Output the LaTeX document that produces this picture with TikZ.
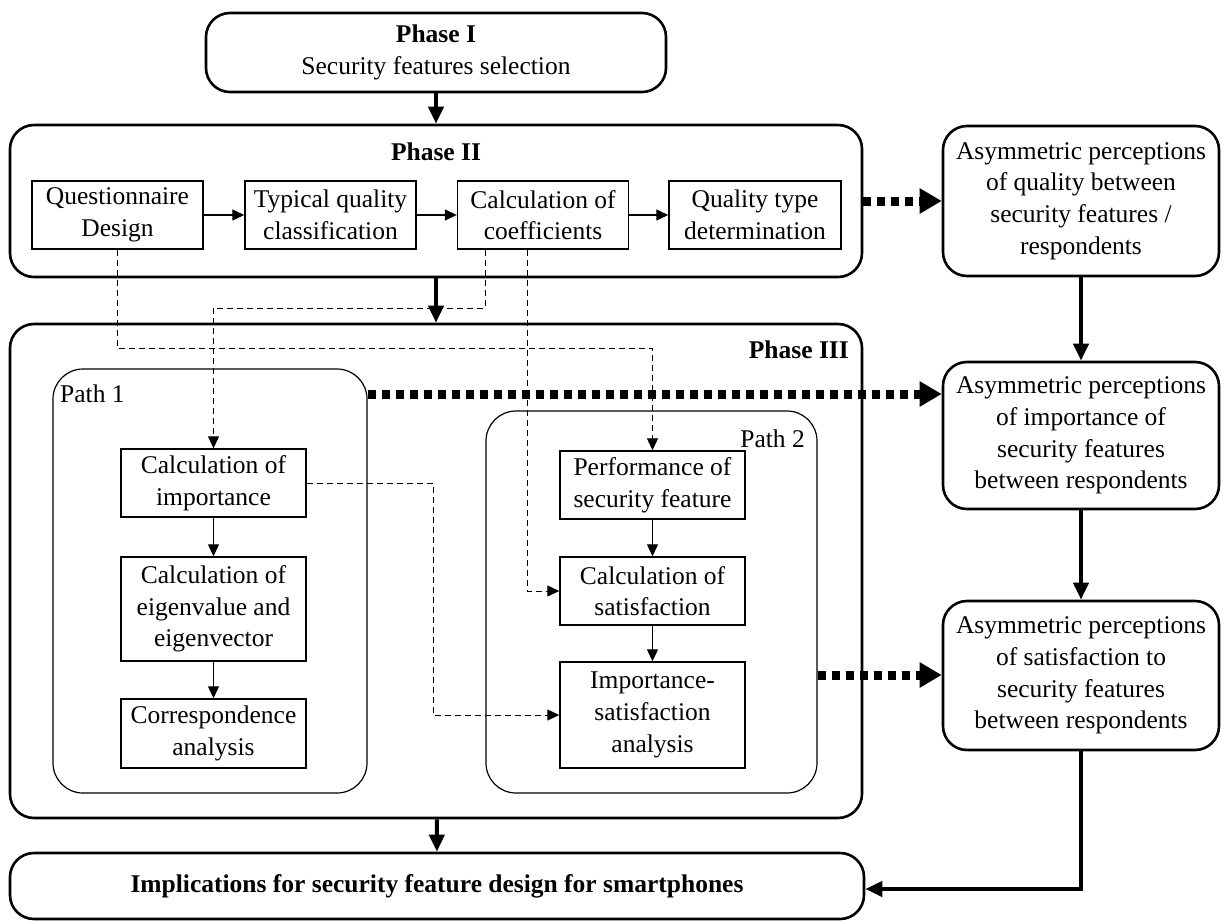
\documentclass[tikz,border=0pt]{standalone}
\usepackage{fontspec}
\setmainfont{Liberation Serif}
\usetikzlibrary{arrows.meta}
\begin{document}
\begin{tikzpicture}[x=1pt,y=-1pt,
  font=\fontsize{25.5}{31.7}\selectfont,
  phase/.style={draw, line width=2.6pt, rounded corners=24pt, align=center, inner sep=0pt},
  sidebox/.style={draw, line width=2.6pt, rounded corners=24pt, align=center, inner sep=0pt, minimum width=276pt},
  pathbox/.style={draw, line width=1.2pt, rounded corners=30pt},
  stepbox/.style={draw, line width=1.4pt, align=center, inner sep=0pt, minimum width=185pt},
  toprow/.style={stepbox, minimum width=171pt, minimum height=68pt},
  lbl/.style={inner sep=0pt},
  bold/.style={font={\fontsize{25.5}{31.7}\selectfont\bfseries}},
  thinarrow/.style={line width=1.2pt, -{Triangle[length=12pt,width=11pt]}},
  thickarrow/.style={line width=4pt, -{Triangle[length=17pt,width=15pt]}},
  dottedarrow/.style={line width=9pt, dash pattern=on 8pt off 6pt, -{Triangle[length=22pt,width=24pt]}},
  dashedarrow/.style={line width=1pt, dash pattern=on 6pt off 4pt, -{Triangle[length=12pt,width=11pt]}},
]
\useasboundingbox (0,0) rectangle (1224,921);

% Phase I
\node[phase, minimum width=460pt, minimum height=79pt] (P1) at (436,52.5)
  {\textbf{Phase I}\\Security features selection};

% Phase II
\node[phase, minimum width=852pt, minimum height=152pt] (P2) at (436,201) {};
\node[lbl, bold, anchor=base] (L2) at (436,160) {Phase II};
\node[toprow] (Q) at (117.5,215) {Questionnaire\\Design};
\node[toprow] (T) at (330.5,215) {Typical quality\\classification};
\node[toprow] (C) at (543,215) {Calculation of\\coefficients};
\node[toprow, minimum width=172pt] (QT) at (755,215) {Quality type\\determination};

% Phase III
\node[phase, minimum width=852pt, minimum height=494pt] (P3) at (436,571) {};
\node[lbl, bold, anchor=base east] (L3) at (849,358) {Phase III};
\node[pathbox, minimum width=314pt, minimum height=424pt] (PA1) at (210,581) {};
\node[lbl, anchor=base west] (LP1) at (60,402) {Path 1};
\node[pathbox, minimum width=331pt, minimum height=382pt] (PA2) at (651.5,602) {};
\node[lbl, anchor=base east] (LP2) at (805,447) {Path 2};

\node[stepbox, minimum height=68pt] (CI) at (213.5,483) {Calculation of\\importance};
\node[stepbox, minimum height=104pt] (EV) at (213.5,609) {Calculation of\\eigenvalue and\\eigenvector};
\node[stepbox, minimum height=69pt] (CA) at (213.5,733.5) {Correspondence\\analysis};
\node[stepbox, minimum height=68pt] (PF) at (652.5,485) {Performance of\\security feature};
\node[stepbox, minimum height=68pt] (CS) at (652.5,591) {Calculation of\\satisfaction};
\node[stepbox, minimum height=106pt] (IS) at (652.5,715) {Importance-\\satisfaction\\analysis};

% Right column
\node[sidebox, minimum height=150pt] (R1) at (1081,201)
  {Asymmetric perceptions\\of quality between\\security features /\\respondents};
\node[sidebox, minimum height=147pt] (R2) at (1081,435.5)
  {Asymmetric perceptions\\of importance of\\security features\\between respondents};
\node[sidebox, minimum height=149pt] (R3) at (1081,675.5)
  {Asymmetric perceptions\\of satisfaction to\\security features\\between respondents};

% Final
\node[phase, bold, minimum width=854pt, minimum height=66pt] (F) at (437,886)
  {Implications for security feature design for smartphones};

% thin arrows
\draw[thinarrow] (Q) -- (T);
\draw[thinarrow] (T) -- (C);
\draw[thinarrow] (C) -- (QT);
\draw[thinarrow] (CI) -- (EV);
\draw[thinarrow] (EV) -- (CA);
\draw[thinarrow] (PF) -- (CS);
\draw[thinarrow] (CS) -- (IS);

% thick arrows
\draw[thickarrow] (P1) -- (P2);
\draw[thickarrow] (P2) -- (P3);
\draw[thickarrow] (P3) -- (F);
\draw[thickarrow] (R1) -- (R2);
\draw[thickarrow] (R2) -- (R3);
\draw[thickarrow] (R3.south) |- (F.east |- 0,889);

% dotted arrows
\draw[dottedarrow] (P2.east) -- (R1.west);
\draw[dottedarrow] (PA1.east |- 0,394) -- (R2.west |- 0,394);
\draw[dottedarrow] (PA2.east |- 0,675) -- (R3.west |- 0,675);

% dashed connectors
\draw[dashedarrow] (Q.south) -- (Q.south |- 0,348) -- (PF.north |- 0,348) -- (PF.north);
\draw[dashedarrow] (C.south -| 485,0) -- (485,308) -- (CI.north |- 0,308) -- (CI.north);
\draw[dashedarrow] (C.south -| 527,0) |- (CS.west);
\draw[dashedarrow] (CI.east) -- (CI.east -| 433,0) |- (IS.west);
\end{tikzpicture}
\end{document}
